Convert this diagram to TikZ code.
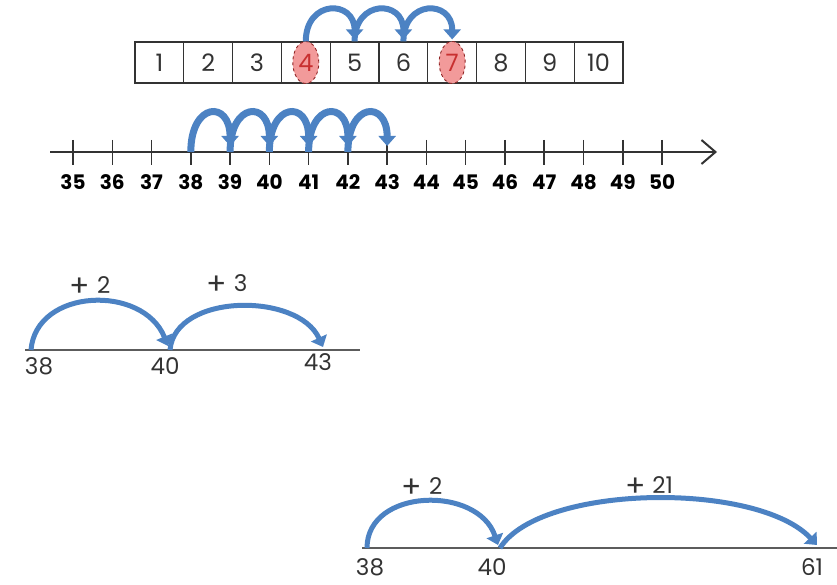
\documentclass[tikz,border=0pt]{standalone}
\usepackage{fontspec}
\setmainfont{Poppins}
\usepackage{tikz}
\usetikzlibrary{arrows.meta,positioning,shapes.geometric}
\definecolor{hopBlue}{HTML}{4C82C3}
\definecolor{ink}{HTML}{333333}
\definecolor{paleRed}{HTML}{F29A9A}
\definecolor{darkRed}{HTML}{8E2424}
\definecolor{digitRed}{HTML}{C83030}
\newcommand{\bigplus}{\raisebox{-0.13em}{\scalebox{1.3}{+}}\hspace{0.3em}}
\tikzset{
  cell/.style={draw=ink,line width=1.2pt,minimum width=48.8pt,minimum height=41pt,inner sep=0pt},
  ringed/.style={ellipse,draw=darkRed,dashed,line width=0.9pt,fill=paleRed,
    minimum width=26pt,minimum height=42pt,inner sep=0pt,text=digitRed},
  hop/.style={draw=hopBlue,line width=5pt,-{Triangle[length=10pt,width=17pt]}},
  axis/.style={draw=ink,line width=2pt,-{Straight Barb[length=14pt,width=24pt]}},
  tick/.style={draw=ink,line width=1.5pt},
  rule/.style={draw=ink!80,line width=1.2pt},
  boxtxt/.style={font=\fontsize{24}{28}\selectfont,text=ink},
  numtxt/.style={font=\fontsize{23}{27}\selectfont,text=ink},
  ticktxt/.style={font=\fontsize{20}{24}\selectfont\bfseries,text=black}
}

\begin{document}
\begin{tikzpicture}[x=1pt,y=-1pt]
    \useasboundingbox (0,0) rectangle (837,585);

    \foreach \i in {1,...,10}
      \node[cell] (c\i) at ({135+48.8*(\i-0.5)},62.5) {};
    \foreach \i in {1,2,3,5,6,8,9,10}
      \node[boxtxt] (d\i) at (c\i) {\i};
    \node[boxtxt,ringed] (r4) at (c4) {4};
    \node[boxtxt,ringed] (r7) at (c7) {7};
    \foreach \i/\j in {4/5,5/6,6/7}
      \draw[hop,line width=6pt] (c\i.north) .. controls +(0,-42) and +(0,-40) .. ([yshift=2pt]c\j.north);

    \coordinate (start) at (50,152);
    \coordinate (tip) at (717,152);
    \draw[axis] (start) -- (tip);
    \foreach \n in {35,...,50}{
      \coordinate (t\n) at ({73+39.27*(\n-35)},152);
      \draw[tick] ([yshift=12pt]t\n) -- ([yshift=-13pt]t\n);
      \node[ticktxt] (n\n) at ({73+39.27*(\n-35)},182) {\n};
    }
    \foreach \n/\m in {38/39,39/40,40/41,41/42,42/43}
      \draw[hop,line width=7pt] (t\n) .. controls +(0,-50) and +(0,-46) .. ([yshift=6pt]t\m);

    \coordinate (pL) at (25,350);
    \coordinate (pR) at (360,350);
    \coordinate (p38) at (31,350);
    \coordinate (p40) at (168,350);
    \coordinate (p43) at (323,350);
    \draw[rule] (pL) -- (pR);
    \node[numtxt] (l38) at (39,366) {38};
    \node[numtxt] (l40) at (165,366) {40};
    \node[numtxt] (l43) at (318,362) {43};
    \draw[hop] (p38) .. controls +(5,-62) and +(-25,-62) .. ([yshift=4pt]p40);
    \draw[hop] ([xshift=2pt]p40) .. controls +(5,-57) and +(-25,-55) .. ([yshift=3pt]p43);
    \node[numtxt] (s2) at (90,287) {\bigplus 2};
    \node[numtxt] (s3) at (227,285) {\bigplus 3};

    \coordinate (qL) at (362,548);
    \coordinate (qR) at (837,548);
    \coordinate (q38) at (367,548);
    \coordinate (q40) at (498,548);
    \coordinate (q61) at (817,548);
    \draw[rule] (qL) -- (qR);
    \node[numtxt] (m38) at (370,567) {38};
    \node[numtxt] (m40) at (492,567) {40};
    \node[numtxt] (m61) at (812,567) {61};
    \draw[hop] (q38) .. controls +(0,-60) and +(-20,-60) .. ([yshift=3pt]q40);
    \draw[hop] ([xshift=2pt]q40) .. controls +(40,-64) and +(-60,-64) .. ([yshift=3pt]q61);
    \node[numtxt] (u2) at (422,488) {\bigplus 2};
    \node[numtxt] (u21) at (649,487) {\bigplus 21};
\end{tikzpicture}
\end{document}
